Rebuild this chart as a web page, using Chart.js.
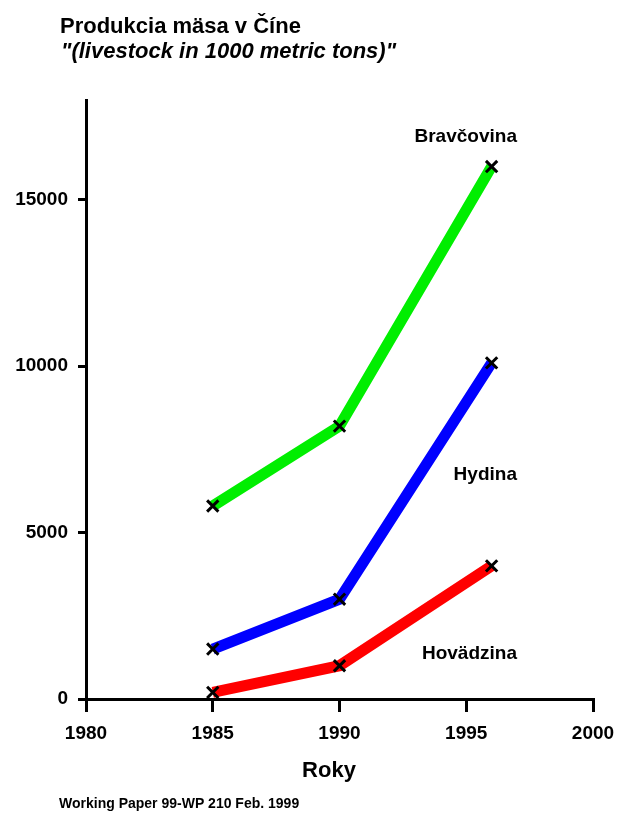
<!DOCTYPE html>
<html>
<head>
<meta charset="utf-8">
<script src="https://cdn.jsdelivr.net/npm/chart.js@4"></script>
<style>
  body { margin: 0; background: #fff; }
  canvas { display: block; }
</style>
</head>
<body>
<canvas id="myChart" width="618" height="814"></canvas>
<script>
const years = [1985, 1990, 1996];
const bravcovina = [5800, 8200, 16000];
const hydina = [1500, 3000, 10100];
const hovadzina = [200, 1000, 4000];
const seriesNames = ['Bravčovina', 'Hydina', 'Hovädzina'];
const xTickValues = [1980, 1985, 1990, 1995, 2000];
const yTickValues = [0, 5000, 10000, 15000];

const titleText = 'Produkcia mäsa v Číne';
const subtitleText = '"(livestock in 1000 metric tons)"';
const xTitle = 'Roky';
const footerText = 'Working Paper 99-WP 210 Feb. 1999';

const FONT = '"Liberation Sans", Arial, sans-serif';

function toPoints(values) {
  return years.map(function (y, i) { return { x: y, y: values[i] }; });
}

function series(label, values, color) {
  return {
    label: label,
    data: toPoints(values),
    borderColor: color,
    backgroundColor: color,
    borderWidth: 11,
    pointStyle: 'crossRot',
    pointRadius: 8,
    pointBorderColor: '#000',
    pointBorderWidth: 3,
    pointHoverRadius: 8,
    tension: 0
  };
}

// texts that are not part of the axes: title, names beside the lines, footer
const textPlugin = {
  id: 'texts',
  afterDraw: function (chart) {
    const ctx = chart.ctx;
    const xs = chart.scales.x, ys = chart.scales.y;
    ctx.save();
    ctx.fillStyle = '#000';
    ctx.textBaseline = 'alphabetic';
    ctx.textAlign = 'left';
    ctx.font = 'bold 22px ' + FONT;
    ctx.fillText(titleText, 60, 33);
    ctx.font = 'italic bold 22px ' + FONT;
    ctx.fillText(subtitleText, 61, 58);

    ctx.font = 'bold 22px ' + FONT;
    ctx.textAlign = 'center';
    ctx.fillText(xTitle, 329, 777);

    ctx.font = 'bold 14px ' + FONT;
    ctx.textAlign = 'left';
    ctx.fillText(footerText, 59, 808);

    // series names, right aligned, placed in data coordinates
    const namePos = [[1997, 16900], [1997, 6730], [1997, 1350]];
    ctx.font = 'bold 19px ' + FONT;
    ctx.textAlign = 'right';
    ctx.textBaseline = 'middle';
    seriesNames.forEach(function (name, i) {
      ctx.fillText(name, xs.getPixelForValue(namePos[i][0]), ys.getPixelForValue(namePos[i][1]));
    });
    ctx.restore();
  }
};

const data = {
  datasets: [
    series(seriesNames[0], bravcovina, '#00ee00'),
    series(seriesNames[1], hydina, '#0000ff'),
    series(seriesNames[2], hovadzina, '#ff0000')
  ]
};

const config = {
  type: 'line',
  data: data,
  plugins: [textPlugin],
  options: {
    responsive: false,
    animation: false,
    layout: { padding: { top: 100, left: 0, right: 25, bottom: 0 } },
    plugins: {
      legend: { display: false },
      tooltip: { enabled: false },
      title: { display: false }
    },
    scales: {
      x: {
        type: 'linear',
        min: 1980,
        max: 2000,
        afterFit: function (s) { s.height = 115; s.paddingLeft = 0; s.paddingRight = 0; },
        afterBuildTicks: function (s) { s.ticks = xTickValues.map(function (v) { return { value: v }; }); },
        border: { display: true, color: '#000', width: 3 },
        grid: { drawOnChartArea: false, drawTicks: true, tickLength: 13, tickWidth: 3, tickColor: '#000', color: '#000', lineWidth: 3 },
        ticks: {
          color: '#000',
          padding: 10,
          maxRotation: 0,
          font: { family: FONT, size: 19, weight: 'bold' },
          callback: function (v) { return String(v); }
        }
      },
      y: {
        min: 0,
        max: 18000,
        afterFit: function (s) { s.width = 86; },
        afterBuildTicks: function (s) { s.ticks = yTickValues.map(function (v) { return { value: v }; }); },
        border: { display: true, color: '#000', width: 3 },
        grid: { drawOnChartArea: false, drawTicks: true, tickLength: 8, tickWidth: 3, tickColor: '#000', color: '#000', lineWidth: 3 },
        ticks: {
          color: '#000',
          padding: 10,
          font: { family: FONT, size: 19, weight: 'bold' },
          callback: function (v) { return String(v); }
        }
      }
    }
  }
};

var myChart = new Chart(document.getElementById('myChart'), config);
</script>
</body>
</html>
